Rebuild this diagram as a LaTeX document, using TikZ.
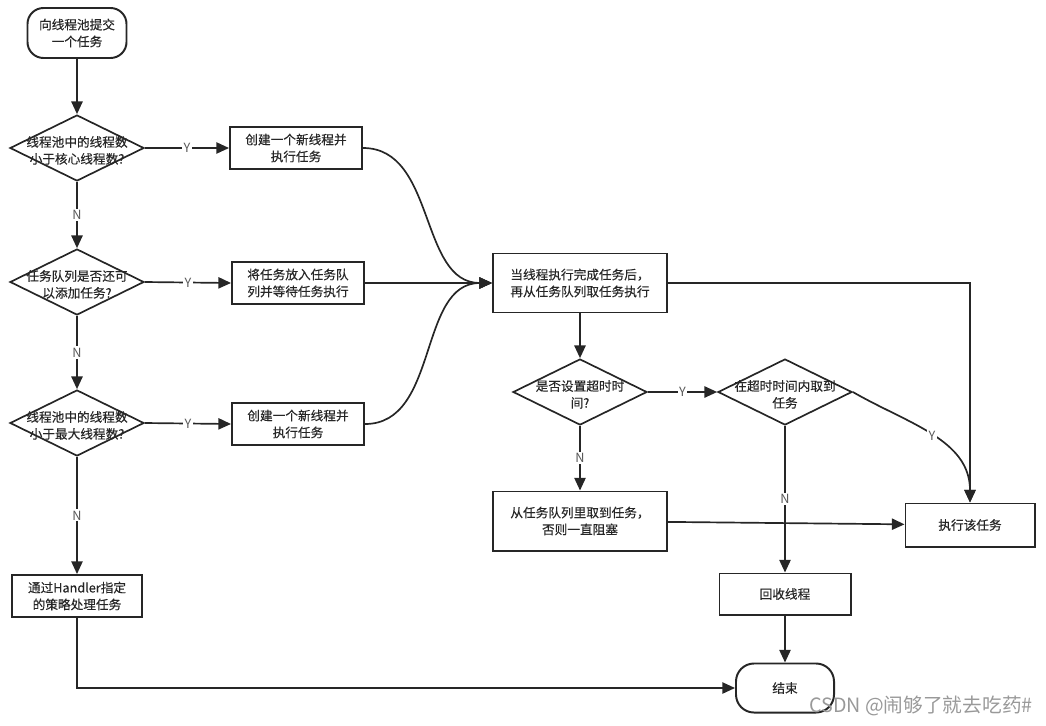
\documentclass[tikz,border=0pt]{standalone}
\usepackage{fontspec}
\setmainfont{Noto Sans CJK SC}[FakeBold=0.3]
\newfontfamily\wmfont{Noto Sans CJK SC}
\usetikzlibrary{shapes.geometric,arrows.meta}
\newcommand{\dtext}[2]{\raisebox{-5pt}[0pt][0pt]{\makebox[0pt]{\begin{tabular}{@{}c@{}}#1\\#2\end{tabular}}}}

\begin{document}
\begin{tikzpicture}[x=0.025cm,y=-0.025cm,
	font=\fontsize{9}{12}\selectfont,text=black!85,
	box/.style={draw=black!85,line width=1.4pt,align=center,inner sep=0pt,minimum width=3.3cm,minimum height=1.05cm},
	term/.style={box,rounded corners=0.4cm},
	dec/.style={diamond,draw=black!85,line width=1.2pt,inner sep=0pt,minimum width=3.35cm,minimum height=1.65cm},
	arr/.style={draw=black!85,line width=1.2pt,-{Triangle[length=9pt,width=8pt]}},
	yn/.style={fill=white,inner sep=1pt,font=\wmfont\fontsize{9}{10}\selectfont,text=black!65}]
			\useasboundingbox (0,0) rectangle (1046,725);
			\node[term,minimum width=2.475cm,minimum height=1.25cm] (start) at (77,33) {向线程池提交\\一个任务};
			\node[dec] (d1) at (77,148) {\dtext{线程池中的线程数}{小于核心线程数?}};
			\node[box] (a1) at (296,148) {创建一个新线程并\\执行任务};
			\node[dec] (d2) at (77,282) {\dtext{任务队列是否还可}{以添加任务?}};
			\node[box] (a2) at (298,283) {将任务放入任务队\\列并等待任务执行};
			\node[dec] (d3) at (77,423) {\dtext{线程池中的线程数}{小于最大线程数?}};
			\node[box] (a3) at (298,424) {创建一个新线程并\\执行任务};
			\node[box,minimum width=3.25cm] (handler) at (77,596) {通过Handler指定\\的策略处理任务};

			\node[box,minimum width=4.35cm,minimum height=1.475cm] (main) at (580,283) {当线程执行完成任务后，\\再从任务队列取任务执行};
			\node[dec] (d4) at (580,392) {\dtext{是否设置超时时}{间?}};
			\node[dec] (d5) at (785,392) {\dtext{在超时时间内取到}{任务}};
			\node[box,minimum width=4.35cm,minimum height=1.475cm] (take) at (580,521) {从任务队列里取到任务，\\否则一直阻塞};
			\node[box,minimum width=3.225cm,minimum height=1.075cm] (run) at (970,525) {执行该任务};
			\node[box,minimum width=3.275cm,minimum height=1.025cm] (recycle) at (785,594) {回收线程};
			\node[term,minimum width=2.45cm,minimum height=1.225cm,rounded corners=0.45cm] (end) at (785,688) {结束};

			\draw[arr] (start) -- (d1);
			\draw[arr] (d1) -- node[yn] {Y} (a1);
			\draw[arr] (d1) -- node[yn] {N} (d2);
			\draw[arr] (d2.east) -- node[yn] {Y} (a2.west);
			\draw[arr] (d2) -- node[yn] {N} (d3);
			\draw[arr] (d3.east) -- node[yn] {Y} (a3.west);
			\draw[arr] (d3) -- node[yn] {N} (handler);
			\draw[arr] (handler) |- (end);

			\draw[arr] (a1.east) to[out=0,in=180] (main.west);
			\draw[arr] (a2.east) -- (main.west);
			\draw[arr] (a3.east) to[out=0,in=180] (main.west);
			\draw[arr] (main) -| (run);
			\draw[arr] (main) -- (d4);
			\draw[arr] (d4) -- node[yn] {Y} (d5);
			\draw[arr] (d4) -- node[yn] {N} (take);
			\draw[arr] (d5.east) to[out=-30,in=90] node[yn,pos=0.5] {Y} (run.north);
			\draw[arr] (d5) -- node[yn] {N} (recycle);
			\draw[arr] (take) -- (run);
			\draw[arr] (recycle) -- (end);

			\node[text=black!40,font=\wmfont\fontsize{14}{16}\selectfont] (wm) at (921,706) {CSDN @闹够了就去吃药\#};
			\end{tikzpicture}
\end{document}
